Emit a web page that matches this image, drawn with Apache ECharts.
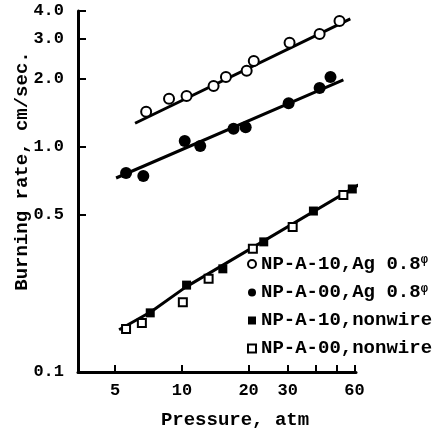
<!DOCTYPE html>
<html>
<head>
<meta charset="utf-8">
<script src="https://cdn.jsdelivr.net/npm/echarts@6/dist/echarts.min.js"></script>
<style>
html,body{margin:0;padding:0;background:#fff;}
#chart{width:437px;height:431px;}
</style>
</head>
<body>
<div id="chart"></div>
<script>
// ---- tick values ----
const xTickVals = [5, 10, 20, 30, 40, 50, 60];
const xLabelVals = [5, 10, 20, 30, 60];
const yTickVals = [0.1, 0.5, 1.0, 2.0, 3.0, 4.0];

// ---- legend / series names ----
const seriesNames = ['NP-A-10,Ag 0.8φ', 'NP-A-00,Ag 0.8φ', 'NP-A-10,nonwire', 'NP-A-00,nonwire'];

// ---- data: pressure (atm), burning rate (cm/sec) ----
const a10AgP = [6.9, 8.75, 10.5, 13.9, 15.8, 19.6, 21.1, 30.6, 41.8, 51.4];
const a10AgR = [1.43, 1.63, 1.68, 1.86, 2.04, 2.17, 2.40, 2.89, 3.16, 3.61];

const a00AgP = [5.6, 6.7, 10.3, 12.1, 17.1, 19.4, 30.3, 41.8, 46.8];
const a00AgR = [0.764, 0.741, 1.06, 1.007, 1.20, 1.22, 1.56, 1.82, 2.04];

const a10NwP = [7.2, 10.5, 15.3, 23.4, 39.2, 58.7];
const a10NwR = [0.183, 0.243, 0.287, 0.378, 0.518, 0.649];

const a00NwP = [5.6, 6.6, 10.1, 13.2, 20.9, 31.6, 53.5];
const a00NwR = [0.155, 0.165, 0.204, 0.259, 0.352, 0.440, 0.610];

// ---- hand-drawn fit lines ----
const fitTopP = [6.15, 57.5];
const fitTopR = [1.27, 3.69];
const fitMidP = [5.05, 53.5];
const fitMidR = [0.726, 1.98];
const fitLowP = [5.21, 7.26, 10.4, 65.9];
const fitLowR = [0.154, 0.185, 0.238, 0.697];

const L = Math.log10;
function pts(P, R) { return P.map((p, i) => [L(p), L(R[i])]); }

const FONT = 'Liberation Mono';

const chart = echarts.init(document.getElementById('chart'), null, {renderer: 'canvas'});

function scatter(name, P, R, symbol, size, filled) {
  return {
    name: name, type: 'scatter', data: pts(P, R),
    symbol: symbol, symbolSize: size, z: 5,
    itemStyle: {color: filled ? '#000' : '#fff', borderColor: '#000', borderWidth: filled ? 0 : 2, opacity: 1}
  };
}
function fit(name, P, R) {
  return {
    name: name, type: 'line', data: pts(P, R), showSymbol: false, symbol: 'none',
    clip: false, silent: true, z: 3,
    lineStyle: {color: '#000', width: 3}
  };
}

const option = {
  backgroundColor: '#fff',
  animation: false,
  grid: {left: 78, right: 81, top: 11, bottom: 59, containLabel: false},
  xAxis: {
    type: 'value', min: L(3.4), max: L(61),
    axisLine: {show: true, onZero: false, lineStyle: {color: '#000', width: 3}},
    axisTick: {show: true, inside: true, length: 7, lineStyle: {color: '#000', width: 2}, customValues: xTickVals.map(L)},
    axisLabel: {show: true, margin: 10, color: '#000', fontFamily: FONT, fontWeight: 'bold', fontSize: 17,
      customValues: xLabelVals.map(L),
      formatter: v => String(Math.round(Math.pow(10, v)))},
    splitLine: {show: false}
  },
  yAxis: {
    type: 'value', min: L(0.1), max: L(4.0),
    axisLine: {show: true, onZero: false, lineStyle: {color: '#000', width: 3}},
    axisTick: {show: true, inside: true, length: 8, lineStyle: {color: '#000', width: 2}, customValues: yTickVals.map(L)},
    axisLabel: {show: true, margin: 14, color: '#000', fontFamily: FONT, fontWeight: 'bold', fontSize: 17,
      customValues: yTickVals.map(L),
      formatter: v => Math.pow(10, v).toFixed(1)},
    splitLine: {show: false}
  },
  legend: {
    orient: 'vertical', left: 247, top: 254, padding: 0, itemGap: 9,
    itemWidth: 8, itemHeight: 8,
    data: seriesNames,
    formatter: name => name.endsWith('φ') ? '{t|' + name.slice(0, -1) + '}{s|φ}' : '{t|' + name + '}',
    textStyle: {
      color: '#000',
      rich: {
        t: {fontFamily: FONT, fontWeight: 'bold', fontSize: 19, color: '#000', lineHeight: 20},
        s: {fontFamily: FONT, fontWeight: 'bold', fontSize: 12, color: '#000', verticalAlign: 'top', lineHeight: 12}
      }
    }
  },
  graphic: [
    {type: 'text', x: 22, y: 171, rotation: Math.PI / 2,
      style: {text: 'Burning rate, cm/sec.', font: 'bold 19px "Liberation Mono"', fill: '#000', textAlign: 'center', textVerticalAlign: 'middle'}},
    {type: 'text', x: 235, y: 420,
      style: {text: 'Pressure, atm', font: 'bold 19px "Liberation Mono"', fill: '#000', textAlign: 'center', textVerticalAlign: 'middle'}}
  ],
  series: [
    fit('fitTop', fitTopP, fitTopR),
    fit('fitMid', fitMidP, fitMidR),
    fit('fitLow', fitLowP, fitLowR),
    scatter(seriesNames[0], a10AgP, a10AgR, 'circle', 10, false),
    scatter(seriesNames[1], a00AgP, a00AgR, 'circle', 12, true),
    scatter(seriesNames[2], a10NwP, a10NwR, 'rect', 9, true),
    scatter(seriesNames[3], a00NwP, a00NwR, 'rect', 8, false)
  ]
};
chart.setOption(option);
</script>
</body>
</html>
